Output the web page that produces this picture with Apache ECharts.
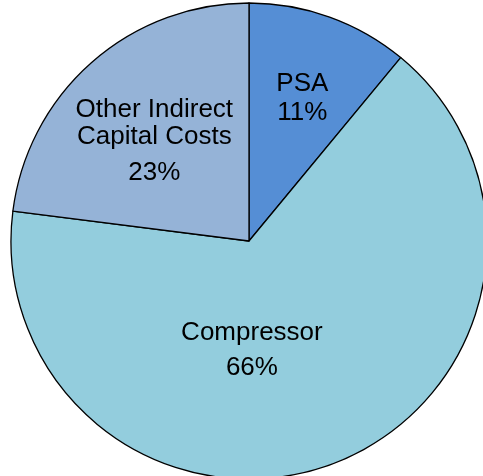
<!DOCTYPE html>
<html>
<head>
<meta charset="utf-8">
<script src="https://cdn.jsdelivr.net/npm/echarts@6/dist/echarts.min.js"></script>
<style>
  html, body { margin: 0; padding: 0; background: #fff; }
  #chart { width: 483px; height: 476px; }
</style>
</head>
<body>
<div id="chart"></div>
<script>
// slices, clockwise from 12 o'clock
const categories = ['PSA', 'Compressor', 'Other Indirect\nCapital Costs'];
const shares = [11, 66, 23];
const colors = ['#558ED5', '#93CDDD', '#95B3D7'];

// nudges from ECharts' default inside label spot
const labelShift = [[12, -27], [-42, 0], [-14, -4]];
const gapAbovePct = [30, 44, 44];

const chart = echarts.init(document.getElementById('chart'), null, { renderer: 'canvas' });

const data = categories.map((name, i) => ({
  name: name,
  value: shares[i],
  itemStyle: { color: colors[i] },
  label: {
    formatter: '{n|{b}}\n{p' + i + '|{d}%}'
  }
}));

const font = 'Liberation Sans, Arial, sans-serif';
const rich = {
  n: { fontSize: 26, lineHeight: 27, color: '#000', fontFamily: font }
};
gapAbovePct.forEach((h, i) => {
  rich['p' + i] = { fontSize: 26, lineHeight: h, color: '#000', fontFamily: font };
});

chart.setOption({
  animation: false,
  series: [{
    type: 'pie',
    center: [249, 241],
    radius: 238,
    startAngle: 90,
    clockwise: true,
    silent: true,
    data: data,
    itemStyle: { borderColor: '#000', borderWidth: 1.3 },
    label: {
      show: true,
      position: 'inside',
      align: 'center',
      rich: rich
    },
    labelLine: { show: false },
    labelLayout: function (p) {
      const s = labelShift[p.dataIndex];
      return { dx: s[0], dy: s[1] };
    }
  }]
});
</script>
</body>
</html>
